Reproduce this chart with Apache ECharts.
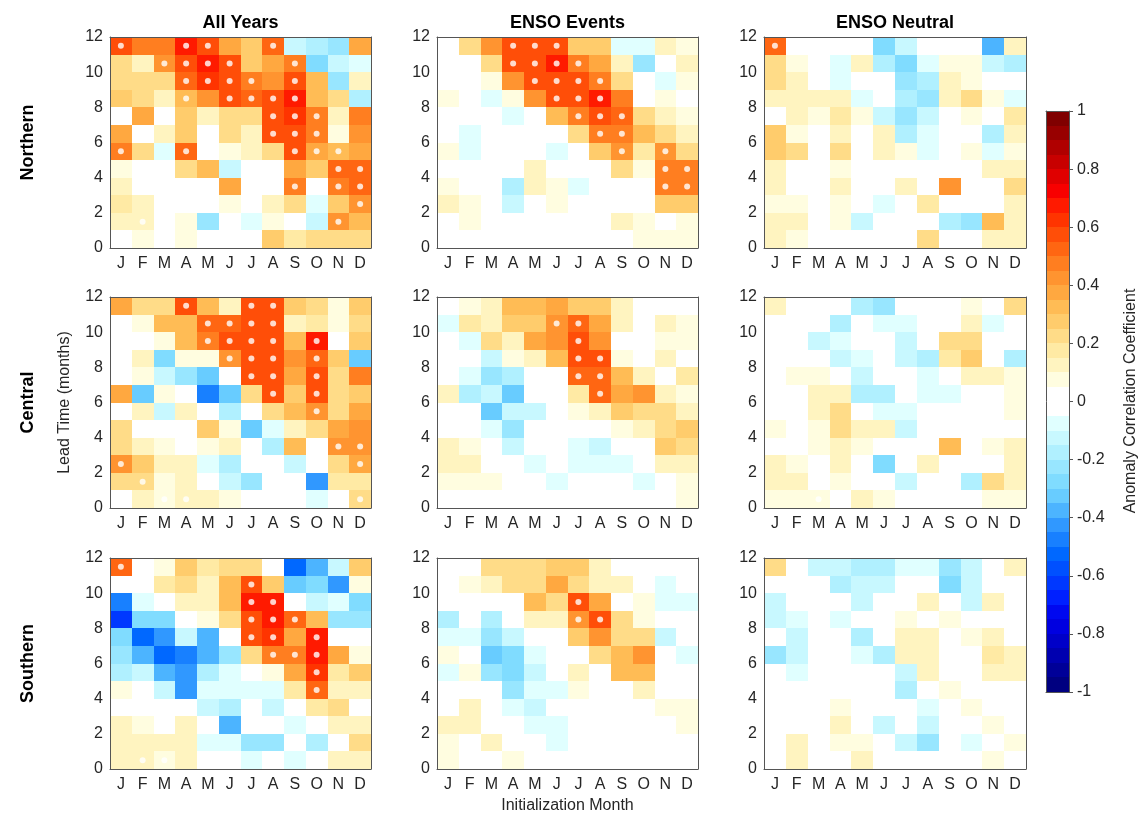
<!DOCTYPE html>
<html><head><meta charset="utf-8">
<script src="https://cdn.jsdelivr.net/npm/echarts@6/dist/echarts.min.js"></script>
<style>html,body{margin:0;padding:0;background:#fff}#c{width:1140px;height:820px}</style>
</head><body><div id="c"></div>
<script>
// ---------- DATA ----------
const months = ['J','F','M','A','M','J','J','A','S','O','N','D'];
const yTicks = [0, 2, 4, 6, 8, 10, 12];
const colTitles = ['All Years', 'ENSO Events', 'ENSO Neutral'];
const rowTitles = ['Northern', 'Central', 'Southern'];
// rows listed from top (lead 11-12) to bottom (lead 0-1), columns J..D
const northAll = [
[0.55,0.45,0.45,0.68,0.58,0.37,0.27,0.52,-0.12,-0.17,-0.22,0.37],
[0.22,0.12,0.4,0.55,0.65,0.58,0.28,0.37,0.45,-0.27,-0.12,-0.07],
[0.2,0.2,0.2,0.52,0.62,0.58,0.45,0.4,0.58,0.3,-0.22,0.12],
[0.28,0.22,0.12,0.3,0.4,0.55,0.52,0.55,0.68,0.3,0.2,-0.17],
[0,0.35,0,0.27,0.13,0.23,0.23,0.55,0.62,0.47,0.12,0.45],
[0.35,0,0.12,0.27,0,0.23,0.12,0.55,0.55,0.45,0.07,0.4],
[0.45,0.22,-0.07,0.52,0,0.07,0.12,0.22,0.58,0.35,0.3,0.35],
[0.07,0,0,0.2,0.33,-0.12,0,0,0.35,0.27,0.52,0.52],
[0.12,0,0,0,0,0.35,0,0,0.45,0,0.45,0.52],
[0.17,0.12,0,0,0,0.07,0,0.12,0.2,-0.07,0.27,0.42],
[0.12,0.12,0,0.07,-0.22,0,-0.07,0.07,0,-0.12,0.4,0.3],
[0,0.07,0,0.07,0,0,0,0.27,0.17,0.2,0.2,0.2]
];
const northEvents = [
[0,0.22,0.4,0.58,0.55,0.55,0.27,0.27,-0.07,-0.07,0.13,0.07],
[0,0,0.2,0.55,0.55,0.65,0.45,0.35,0.13,-0.22,0,0.12],
[0,0,0.07,0.4,0.55,0.58,0.55,0.45,0.2,0,-0.07,0.07],
[0.07,0,-0.07,0.07,0.4,0.55,0.58,0.65,0.45,0,0.07,0],
[0,0,0,-0.07,0,0.33,0.45,0.55,0.52,0.2,0.13,0.07],
[0,-0.07,0,0,0,0,0.22,0.47,0.47,0.33,0.22,0.13],
[0.07,-0.07,0,0,0,-0.07,0,0.28,0.42,0.17,0.4,0.2],
[0,0,0,0,0.12,0,0,0,0.22,0.07,0.45,0.45],
[0.07,0,0,-0.17,0.12,0.07,-0.07,0,0,0,0.45,0.45],
[0.12,0.07,0,-0.12,0,0.07,0,0,0,0,0.27,0.28],
[0,0.07,0,0,0,0,0,0,0.12,0.07,0,0.07],
[0,0,0,0,0,0,0,0,0,0.07,0.07,0.07]
];
const northNeutral = [
[0.52,0,0,0,0,-0.27,-0.12,0,0,0,-0.37,0.13],
[0.22,0.07,0,-0.07,0.12,-0.17,-0.27,-0.07,0.07,0.07,-0.12,-0.17],
[0.22,0.13,0,-0.07,0,0,-0.22,-0.17,0.13,0.07,0,0],
[0.12,0.13,0.13,0.12,-0.07,0,-0.17,-0.22,0.12,0.2,0.07,-0.07],
[0,0.13,0.07,0.17,0.07,-0.12,-0.22,-0.12,0,0.07,0,0.17],
[0.28,0.07,0,0.12,0,0.12,-0.17,-0.07,0,0,-0.17,0.13],
[0.28,0.22,0,0.2,0,0.12,0.07,-0.07,0,0.07,-0.07,0.07],
[0.13,0,0,0.07,0,0,0,0,0,0,0.13,0.13],
[0.12,0,0,0.12,0,0,0.12,0,0.4,0,0,0.2],
[0.07,0.07,0,0.07,0,-0.07,0,0.17,0,0,0,0.12],
[0.12,0.12,0,0.07,-0.12,0,0,0,-0.17,-0.22,0.3,0.12],
[0.12,0.07,0,0,0,0,0,0.22,0,0,0.12,0.12]
];
const centralAll = [
[0.35,0.2,0.2,0.55,0.33,0.13,0.55,0.55,0.28,0.22,0.07,0.27],
[0,0.07,0.3,0.3,0.52,0.52,0.55,0.55,0.12,0.17,0.07,0.2],
[0,0,0.07,0.3,0.45,0.55,0.58,0.55,0.3,0.65,0,0.28],
[0,0.12,-0.27,0.07,0.07,0.4,0.55,0.55,0.4,0.52,0.28,-0.32],
[0,0.07,-0.12,-0.22,-0.32,0,0.55,0.58,0.35,0.55,0.2,0.45],
[0.35,-0.32,0.07,0,-0.47,-0.32,0.22,0.55,0.27,0.55,0.2,0.28],
[0,0.12,-0.12,0.13,0,-0.17,0,0.2,0.3,0.4,0.22,0.35],
[0.2,0,0,0,0.27,0.07,-0.32,-0.07,0.12,0.2,0.35,0.4],
[0.2,0.12,0.07,0,0.07,0.12,0,-0.17,0.3,0,0.4,0.4],
[0.4,0.27,0.12,0.13,-0.07,-0.17,0,0,-0.12,0,0.2,0.35],
[0.22,0.22,0.07,0.13,0,-0.12,-0.22,0,0,-0.42,0.17,0.17],
[0,0.12,0.07,0.13,0.12,0.07,0,0,0,-0.07,0,0.22]
];
const centralEvents = [
[0,0.07,0.13,0.3,0.3,0.38,0.28,0.28,0.13,0,0,0],
[-0.07,0.17,0.12,0.28,0.28,0.42,0.52,0.35,0.13,0,0.12,0.07],
[0,-0.07,0.2,0.13,0.35,0.4,0.58,0.4,0,0,0.07,0.07],
[0,0,-0.12,0.07,0.13,0.3,0.55,0.55,0.07,0,0.12,0],
[0,-0.07,-0.22,-0.17,0,0,0.5,0.52,0.3,0.13,0,0.17],
[0.12,-0.17,-0.12,-0.32,0,0,0.17,0.52,0.35,0.42,0.12,0.07],
[0,0,-0.32,-0.12,-0.12,0,0.07,0.13,0.28,0.22,0.22,0.13],
[0,0,-0.07,-0.22,0,0,0,0,0.07,0.12,0.2,0.27],
[0.12,0.07,0,-0.12,0,0,-0.07,-0.12,0,0,0.27,0.2],
[0.13,0.12,0,0,-0.07,0,-0.07,-0.07,-0.07,0,0.13,0.13],
[0.07,0.07,0.07,0,0,-0.07,0,0,0,-0.07,0,0.07],
[0,0,0,0,0,0,0,0,0,0,0,0.07]
];
const centralNeutral = [
[0.13,0,0,0,-0.17,-0.22,0,0,0,0.07,0,0.2],
[0,0,0,-0.17,0,-0.07,-0.07,0,0,0.12,-0.07,0],
[0,0,-0.12,-0.07,0,0,-0.12,0,0.2,0.2,0,0],
[0,0,0,-0.12,-0.07,0,-0.12,-0.17,0.17,0.27,0,-0.17],
[0,0.07,0.07,0,-0.12,0,0,-0.07,0,0.13,0.12,0.07],
[0,0,0.12,0.13,-0.17,-0.17,0,-0.07,-0.07,0,0,0.07],
[0,0,0.13,0.22,0,-0.07,-0.07,0,0,0,0,0.07],
[0.07,0,0.07,0.2,0.12,0.12,-0.12,0,0,0,0,0],
[0,0,0.07,0.12,0.07,0,0,0,0.3,0,0.07,0.12],
[0.13,0.07,0,0.12,0,-0.27,0,0.12,0,0,0,0.12],
[0.12,0.13,0,0.07,0,0,-0.12,0,0,-0.17,0.2,0.12],
[0.07,0.07,0.07,0,0.12,0.07,0,0,0,0,0.07,0.07]
];
const southAll = [
[0.5,0,0.07,0.28,0.17,0.2,0.2,0,-0.52,-0.37,-0.12,0.28],
[0,0,0.17,0.22,0.12,0.3,0.55,0.28,-0.32,-0.27,-0.42,0.07],
[-0.47,-0.07,0,0.13,0.13,0.3,0.65,0.65,0,-0.12,-0.07,-0.27],
[-0.62,-0.27,-0.27,0,0.07,0.22,0.58,0.65,0.52,0.3,-0.22,-0.22],
[-0.27,-0.52,-0.42,-0.12,-0.37,0,0.58,0.62,0.35,0.65,0,0],
[-0.22,-0.37,-0.52,-0.47,-0.37,-0.22,0.22,0.45,0.48,0.65,0.35,0.07],
[-0.17,-0.12,-0.37,-0.42,-0.17,-0.07,0,0.07,0.35,0.62,0.17,0.27],
[0.07,0,-0.12,-0.42,-0.07,-0.07,-0.07,-0.07,0.17,0.5,0.13,0.13],
[0,0,0,0,-0.12,-0.17,0,-0.12,0,0.17,0.2,0],
[0.13,0.07,0,0.12,0,-0.37,0,0,-0.07,0,0.13,0.13],
[0.13,0.13,0.12,0.12,-0.07,-0.07,-0.22,-0.22,0,-0.17,0,0.2],
[0.12,0.12,0.07,0.12,0,0,-0.07,0,-0.07,0,0.12,0.12]
];
const southEvents = [
[0,0,0.2,0.22,0.2,0.28,0.28,0.12,0,0,0,0],
[0,0.07,0.12,0.22,0.2,0.35,0.22,0.12,0.13,0,-0.07,0],
[0,0,0,0,0.3,0.2,0.55,0.35,0,0.07,-0.07,-0.07],
[-0.17,0,-0.17,0,0.12,0.12,0.42,0.55,0.2,0.07,0,0],
[-0.07,-0.07,-0.22,-0.12,0,0,0.27,0.42,0.22,0.22,-0.12,0],
[0.07,0,-0.32,-0.27,-0.07,0,0,0.2,0.33,0.4,0,-0.07],
[-0.07,0.07,-0.22,-0.27,-0.12,0,0.12,0,0.3,0.3,0,0],
[0,0,0,-0.22,-0.07,-0.07,0.07,0,0,0.13,0,0],
[0,0.12,0,-0.07,-0.12,0,0,0,0,0,0.07,0.07],
[0.12,0.12,0,0,-0.07,-0.07,0,0,0,0,0,0.07],
[0.07,0,0.12,0,0,-0.07,0,0,0,0,0,0],
[0.07,0,0,0.07,0,0,0,0,0,0,0,0]
];
const southNeutral = [
[0.22,0,-0.12,-0.12,-0.17,-0.17,-0.07,-0.07,-0.22,-0.12,0,0.13],
[0,0,0,-0.17,-0.12,-0.12,0,0,-0.27,-0.12,0,0],
[-0.12,0,0,0,-0.12,0,0,0.13,0,-0.12,0.12,0],
[-0.12,-0.07,0,-0.07,0,0,0.07,0,0.07,0,0,0],
[0,-0.12,0,0,-0.17,0,0.12,0.12,0,0.07,0.13,0],
[-0.22,-0.12,0,0,-0.07,-0.17,0.12,0.12,0,0,0.17,0.13],
[0,-0.07,0,0,0,0,-0.12,0.12,0,0,0.12,0.13],
[0,0,0,0,0,0,-0.17,0,0.07,0,0,0],
[0,0,0,0.07,0,0,0,-0.07,0,0.07,0,0],
[0,0,0,0.12,0,-0.12,0,-0.12,0,0,0.07,0],
[0,0.12,0,0.07,0.07,0,-0.12,-0.22,0,-0.07,0,0.07],
[0,0.12,0,0,0.12,0,0,0,0,0,0.07,0]
];
// significant cells: [month index, lead (bottom of cell)]
const northAllSig = [[0,11],[3,11],[4,11],[7,11],[2,10],[3,10],[4,10],[5,10],[8,10],[3,9],[4,9],[5,9],[6,9],[8,9],[3,8],[5,8],[6,8],[7,8],[8,8],[7,7],[8,7],[9,7],[7,6],[8,6],[9,6],[0,5],[3,5],[8,5],[9,5],[10,5],[10,4],[11,4],[8,3],[10,3],[11,3],[11,2],[1,1],[10,1]];
const northEventsSig = [[3,11],[4,11],[5,11],[3,10],[4,10],[5,10],[6,10],[4,9],[5,9],[6,9],[7,9],[5,8],[6,8],[7,8],[6,7],[7,7],[8,7],[7,6],[8,6],[8,5],[10,5],[10,4],[11,4],[10,3],[11,3]];
const northNeutralSig = [[0,11]];
const centralAllSig = [[3,11],[6,11],[7,11],[4,10],[5,10],[6,10],[7,10],[4,9],[5,9],[6,9],[7,9],[9,9],[5,8],[6,8],[7,8],[9,8],[6,7],[7,7],[9,7],[7,6],[9,6],[9,5],[10,3],[11,3],[0,2],[11,2],[1,1],[2,0],[3,0],[11,0]];
const centralEventsSig = [[5,10],[6,10],[6,9],[6,8],[7,8],[6,7],[7,7],[7,6]];
const centralNeutralSig = [[2,0]];
const southAllSig = [[0,11],[6,10],[6,9],[7,9],[6,8],[7,8],[8,8],[6,7],[7,7],[9,7],[7,6],[8,6],[9,6],[9,5],[9,4],[1,0],[2,0]];
const southEventsSig = [[6,9],[6,8],[7,8]];
const southNeutralSig = [];
// colour bar bins (lower edges)
const cbEdges = [-1,-0.95,-0.9,-0.85,-0.8,-0.75,-0.7,-0.65,-0.6,-0.55,-0.5,-0.45,-0.4,-0.35,-0.3,-0.25,-0.2,-0.15,-0.1,-0.05,
  0,0.05,0.1,0.15,0.2,0.25,0.3,0.35,0.4,0.45,0.5,0.55,0.6,0.65,0.7,0.75,0.8,0.85,0.9,0.95];

// ---------- STYLE ----------
const binColors = [
 '#000080','#000098','#0000b0','#0000c8','#0000e0','#0008f0','#0020ff','#0038ff','#0050ff','#0068ff',
 '#1880ff','#3098ff','#4cb4ff','#68ccff','#80dcff','#98e6ff','#b0f0ff','#c8f8ff','#e0ffff','#ffffff',
 '#ffffff','#fffde0','#fff4c0','#ffeaa4','#ffdc88','#ffcc6c','#ffbc55','#ffa840','#ff9430','#ff7e20',
 '#ff6612','#ff4e08','#ff3400','#ff1a00','#f80000','#e00000','#c80000','#b00000','#980000','#800000'];
function colorFor(v) {
  let i = Math.floor((v + 1) / 0.05 + 1e-9);
  if (i < 0) i = 0; if (i > 39) i = 39;
  return binColors[i];
}
const FONT = "'Liberation Sans', Arial, Helvetica, sans-serif";
const TXT = '#262626';
const LINE = '#555';
const colLeft = [110, 437, 764];
const colWidth = [261, 261, 262];
const rowTop = [37, 297, 558];
const rowHeight = 211;

const panelVals = [northAll, northEvents, northNeutral, centralAll, centralEvents, centralNeutral, southAll, southEvents, southNeutral];
const panelSig = [northAllSig, northEventsSig, northNeutralSig, centralAllSig, centralEventsSig, centralNeutralSig, southAllSig, southEventsSig, southNeutralSig];

const rnd = v => Math.round(v + 1e-6);
function cellRender(params, api) {
  const m = api.value(0), lead = api.value(1), v = api.value(2);
  const top = api.coord([m, lead + 1]);
  const bot = api.coord([m, lead]);
  const bw = api.size([1, 0])[0];
  const x0 = rnd(top[0] - bw / 2), x1 = rnd(top[0] + bw / 2);
  const y0 = rnd(top[1]), y1 = rnd(bot[1]);
  return { type: 'rect', shape: { x: x0, y: y0, width: x1 - x0, height: y1 - y0 }, style: { fill: colorFor(v) } };
}
function cbRender(params, api) {
  const e = api.value(0);
  const p0 = api.coord([0, e + 0.05]);
  const p1 = api.coord([1, e]);
  const y0 = rnd(p0[1]), y1 = rnd(p1[1]);
  return { type: 'rect', shape: { x: p0[0], y: y0, width: p1[0] - p0[0], height: y1 - y0 },
    style: { fill: colorFor(e + 0.025) } };
}

const grid = [], xAxis = [], yAxis = [], series = [];
const lineOnly = { show: true, onZero: false, lineStyle: { color: LINE, width: 1 } };
for (let g = 0; g < 9; g++) {
  const r = Math.floor(g / 3), c = g % 3;
  grid.push({ left: colLeft[c], top: rowTop[r], width: colWidth[c], height: rowHeight, show: false });
  xAxis.push({ gridIndex: g, type: 'category', data: months, boundaryGap: true, position: 'bottom', z: 10,
    axisLine: lineOnly, axisTick: { show: false }, splitLine: { show: false },
    axisLabel: { interval: 0, fontSize: 16, color: TXT, margin: 8, fontFamily: FONT } });
  xAxis.push({ gridIndex: g, type: 'category', data: months, boundaryGap: true, position: 'top', z: 10,
    axisLine: lineOnly, axisTick: { show: false }, axisLabel: { show: false }, splitLine: { show: false } });
  yAxis.push({ gridIndex: g, type: 'value', min: yTicks[0], max: yTicks[yTicks.length - 1], interval: 2, position: 'left', z: 10,
    axisLine: lineOnly, axisTick: { show: false }, splitLine: { show: false },
    axisLabel: { fontSize: 16, color: TXT, margin: 7, fontFamily: FONT } });
  yAxis.push({ gridIndex: g, type: 'value', min: 0, max: 12, position: 'right', z: 10,
    axisLine: lineOnly, axisTick: { show: false }, axisLabel: { show: false }, splitLine: { show: false } });
  const data = [];
  panelVals[g].forEach((row, ri) => row.forEach((v, m) => data.push([m, 11 - ri, v])));
  series.push({ type: 'custom', xAxisIndex: 2 * g, yAxisIndex: 2 * g, data: data, renderItem: cellRender, silent: true, z: 2 });
  series.push({ type: 'scatter', xAxisIndex: 2 * g, yAxisIndex: 2 * g, silent: true, z: 5,
    data: panelSig[g].map(p => [p[0], p[1] + 0.5]), symbol: 'circle', symbolSize: 6,
    itemStyle: { color: '#ffffff', borderWidth: 0 } });
}
// colour bar
grid.push({ left: 1046, top: 111, width: 23, height: 581, show: false });
xAxis.push({ gridIndex: 9, type: 'value', min: 0, max: 1, position: 'bottom', z: 10,
  axisLine: lineOnly, axisTick: { show: false }, axisLabel: { show: false }, splitLine: { show: false } });
xAxis.push({ gridIndex: 9, type: 'value', min: 0, max: 1, position: 'top', z: 10,
  axisLine: lineOnly, axisTick: { show: false }, axisLabel: { show: false }, splitLine: { show: false } });
yAxis.push({ gridIndex: 9, type: 'value', min: -1, max: 1, position: 'left', z: 10,
  axisLine: lineOnly, axisTick: { show: false }, axisLabel: { show: false }, splitLine: { show: false } });
yAxis.push({ gridIndex: 9, type: 'value', min: -1, max: 1, interval: 0.2, position: 'right', z: 10,
  axisLine: lineOnly,
  axisTick: { show: true, inside: false, length: 4, lineStyle: { color: LINE } }, splitLine: { show: false },
  axisLabel: { fontSize: 16, color: TXT, margin: 8, fontFamily: FONT,
    formatter: v => { const r = Math.round(v * 10) / 10; return r === 0 ? '0' : String(r); } } });
series.push({ type: 'custom', xAxisIndex: 18, yAxisIndex: 19, data: cbEdges.map(e => [e]), renderItem: cbRender, silent: true, z: 2 });

// texts
const graphic = [];
colTitles.forEach((t, c) => graphic.push({ type: 'text', x: colLeft[c] + colWidth[c] / 2, y: 23,
  style: { text: t, font: 'bold 18px ' + FONT, fill: '#000', align: 'center', verticalAlign: 'middle' } }));
rowTitles.forEach((t, r) => graphic.push({ type: 'text', x: 28, y: rowTop[r] + rowHeight / 2, rotation: Math.PI / 2,
  style: { text: t, font: 'bold 18px ' + FONT, fill: '#000', align: 'center', verticalAlign: 'middle' } }));
graphic.push({ type: 'text', x: 65, y: rowTop[1] + rowHeight / 2, rotation: Math.PI / 2,
  style: { text: 'Lead Time (months)', font: '16px ' + FONT, fill: TXT, align: 'center', verticalAlign: 'middle' } });
graphic.push({ type: 'text', x: colLeft[1] + colWidth[1] / 2, y: 806,
  style: { text: 'Initialization Month', font: '16px ' + FONT, fill: TXT, align: 'center', verticalAlign: 'middle' } });
graphic.push({ type: 'text', x: 1131, y: 401, rotation: Math.PI / 2,
  style: { text: 'Anomaly Correlation Coefficient', font: '16px ' + FONT, fill: TXT, align: 'center', verticalAlign: 'middle' } });

const chart = echarts.init(document.getElementById('c'), null, { renderer: 'canvas' });
chart.setOption({ backgroundColor: '#ffffff', animation: false, grid, xAxis, yAxis, series, graphic });
</script></body></html>
